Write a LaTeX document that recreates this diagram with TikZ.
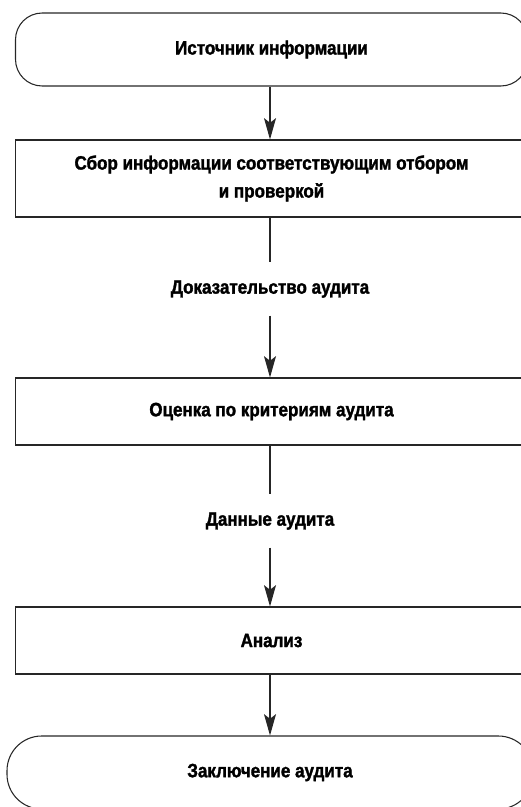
\documentclass[tikz,border=0pt]{standalone}
\usepackage{fontspec}
\setmainfont{Liberation Sans}[FakeStretch=0.88,BoldFeatures={FakeBold=1.6}]
\usetikzlibrary{arrows.meta}

\begin{document}
\begin{tikzpicture}[x=0.75pt,y=-0.75pt,>={Stealth[length=16pt,width=9pt,inset=3.5pt]},
  font=\bfseries\fontsize{14.5}{21}\selectfont,line width=0.8pt,
  box/.style={draw=black!85,minimum width=384pt,align=center},
  term/.style={draw=black!85,minimum width=384pt,minimum height=54.75pt},
  lbl/.style={inner sep=0pt,minimum height=39pt}]
\useasboundingbox (0,0) rectangle (521,807);
% terminals and steps
\node[term,rounded corners=20pt] (src) at (271.5,49.5) {Источник информации};
\node[box,minimum height=57.75pt] (collect) at (271.5,178.5)
  {Сбор информации соответствующим отбором\\и проверкой};
\node[lbl] (evid) at (270,289) {Доказательство аудита};
\node[box,minimum height=50.25pt] (eval) at (271.5,411.5) {Оценка по критериям аудита};
\node[lbl] (data) at (270,521) {Данные аудита};
\node[box,minimum height=50.25pt] (anal) at (271.5,640.5) {Анализ};
\node[term,rounded corners=26pt,minimum width=394.5pt] (concl) at (270,772.5) {Заключение аудита};
% flow
\draw[black!85,->] (src.south -| evid) -- (collect.north -| evid);
\draw[black!85] (collect.south -| evid) -- (evid);
\draw[black!85,->] (evid) -- (eval.north -| evid);
\draw[black!85] (eval.south -| evid) -- (data);
\draw[black!85,->] (data) -- (anal.north -| data);
\draw[black!85,->] (anal.south -| data) -- (concl);
\end{tikzpicture}
\end{document}
